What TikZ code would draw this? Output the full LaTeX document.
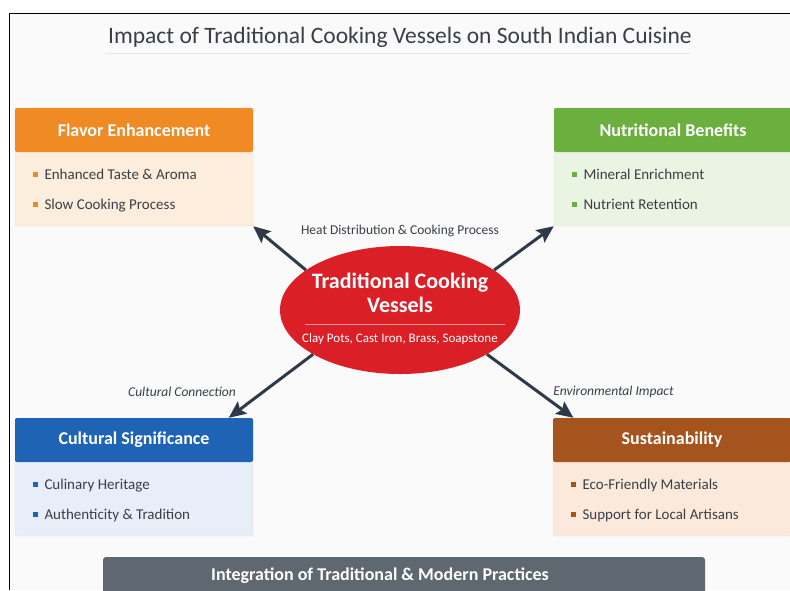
\documentclass[tikz,border=0pt]{standalone}
\usepackage{fontspec}
\setmainfont{Carlito}
\usepackage{tikz}
\usetikzlibrary{shapes.geometric,arrows.meta,positioning}

\definecolor{textdark}{HTML}{3A3F47}
\definecolor{linkgray}{HTML}{2F3A48}
\definecolor{flavorhead}{HTML}{F08A24}
\definecolor{flavorbody}{HTML}{FDEDDC}
\definecolor{nutrihead}{HTML}{6BAF3F}
\definecolor{nutribody}{HTML}{EAF4E2}
\definecolor{culthead}{HTML}{1E63B4}
\definecolor{cultbody}{HTML}{E7EEF7}
\definecolor{sustainhead}{HTML}{A6541E}
\definecolor{sustainbody}{HTML}{FBEADB}
\definecolor{vesselred}{HTML}{DA1F27}
\definecolor{bargray}{HTML}{5F6771}

\newcommand\bul[1]{\textcolor{#1}{\rule[0.22em]{4.5pt}{4.5pt}}\hspace{7pt}}

\tikzset{
	panel/.style={rectangle, rounded corners=2pt, fill=#1, draw=#1!85!black!60, line width=0.4pt, minimum width=238pt, minimum height=118pt, inner sep=0pt},
	head/.style={rectangle, rounded corners=2pt, fill=#1, minimum width=238pt, minimum height=44pt, inner sep=0pt, anchor=north, text=white, font=\bfseries\fontsize{18}{20}\selectfont},
	items/.style={anchor=north west, align=left, inner sep=0pt, text=textdark, font=\fontsize{15}{30}\selectfont},
	link/.style={draw=linkgray, line width=3pt, -{Stealth[length=17pt,width=15pt,inset=3pt]}},
	elabel/.style={text=textdark, font=\fontsize{13.5}{15}\selectfont}
}

\begin{document}
\begin{tikzpicture}[x=1pt,y=-1pt]
			\useasboundingbox (0,0) rectangle (790,590);
			\fill[white] (0,0) rectangle (790,590);
			\fill[black!2] (9,13) rectangle (790,590);
			\draw[black, line width=1pt] (9,590) -- (9,13) -- (790,13);

			\node[text=textdark, font=\fontsize{23.5}{26}\selectfont] (title) at (400,37) {Impact of Traditional Cooking Vessels on South Indian Cuisine};
			\draw[black!10, line width=1pt] (105,53) -- (690,53);

			\node[panel=flavorbody] (flavor) at (134,167) {};
			\node[head=flavorhead] (flavorhead) at (flavor.north) {Flavor Enhancement};
			\node[items] (flavoritems) at ([xshift=18pt,yshift=-17pt]flavorhead.south west) {\bul{flavorhead}Enhanced Taste \& Aroma\\\bul{flavorhead}Slow Cooking Process};

			\node[panel=nutribody] (nutri) at (673,167) {};
			\node[head=nutrihead] (nutrihead) at (nutri.north) {Nutritional Benefits};
			\node[items] (nutriitems) at ([xshift=18pt,yshift=-17pt]nutrihead.south west) {\bul{nutrihead}Mineral Enrichment\\\bul{nutrihead}Nutrient Retention};

			\node[panel=cultbody] (cult) at (134,477) {};
			\node[head=culthead] (culthead) at (cult.north) {Cultural Significance};
			\node[items] (cultitems) at ([xshift=18pt,yshift=-17pt]culthead.south west) {\bul{culthead}Culinary Heritage\\\bul{culthead}Authenticity \& Tradition};

			\node[panel=sustainbody] (sustain) at (672,477) {};
			\node[head=sustainhead] (sustainhead) at (sustain.north) {Sustainability};
			\node[items] (sustainitems) at ([xshift=18pt,yshift=-17pt]sustainhead.south west) {\bul{sustainhead}Eco-Friendly Materials\\\bul{sustainhead}Support for Local Artisans};

			\node[ellipse, fill=vesselred, minimum width=240pt, minimum height=128pt, inner sep=0pt] (vessel) at (400,310) {};
			\node[align=center, text=white, font=\bfseries\fontsize{22}{24}\selectfont] (vtitle) at (400,293) {Traditional Cooking\\Vessels};
			\draw[white!55!vesselred, line width=0.8pt] (305,324) -- (505,324);
			\node[text=white, font=\fontsize{13}{15}\selectfont] (vsub) at (400,339) {Clay Pots, Cast Iron, Brass, Soapstone};

			\draw[link] (vessel.157) -- (flavor.south east);
			\draw[link] (vessel.23) -- (nutri.south west);
			\draw[link] (vessel.207) -- node[elabel, pos=0.55, left=26pt, yshift=-3pt] (culturelabel) {\itshape Cultural Connection} (cult.32);
			\draw[link] (vessel.333) -- node[elabel, pos=0.55, right=14pt, yshift=-3pt] (envlabel) {\itshape Environmental Impact} (sustain.149);
			\node[elabel, above=5pt of vessel.north] (heatlabel) {Heat Distribution \& Cooking Process};

			\node[rectangle, rounded corners=3pt, fill=bargray, minimum width=602pt, minimum height=46pt] (bar) at (404,580) {};
			\node[text=white, font=\bfseries\fontsize{18}{20}\selectfont] (bartext) at (380,576) {Integration of Traditional \& Modern Practices};
			\end{tikzpicture}
\end{document}
